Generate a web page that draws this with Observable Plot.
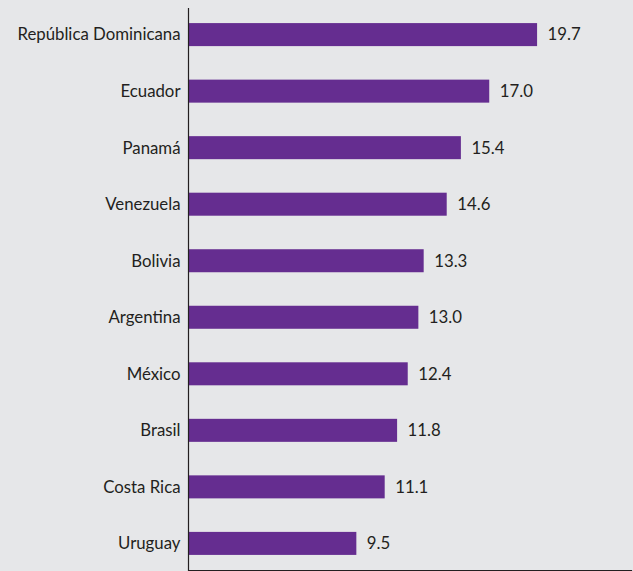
<!DOCTYPE html>
<html>
<head>
<meta charset="utf-8">
<script src="https://cdn.jsdelivr.net/npm/d3@7"></script>
<script src="https://cdn.jsdelivr.net/npm/@observablehq/plot@0.6"></script>
<style>
  html, body { margin: 0; padding: 0; background: #e6e7e9; overflow: hidden; }
  #chart svg { display: block; background: #e6e7e9; }
</style>
</head>
<body>
<div id="chart"></div>
<script>
const countries = ["República Dominicana", "Ecuador", "Panamá", "Venezuela", "Bolivia", "Argentina", "México", "Brasil", "Costa Rica", "Uruguay"];
const values = [19.7, 17.0, 15.4, 14.6, 13.3, 13.0, 12.4, 11.8, 11.1, 9.5];
const xTicks = [0, 5, 10, 15, 20, 25];

const data = countries.map((c, i) => ({country: c, value: values[i]}));
const ink = "#231f20";
const fs = 16.8;

const chart = Plot.plot({
  width: 633,
  height: 571,
  marginLeft: 188,
  marginRight: 2,
  marginTop: 8,
  marginBottom: 1,
  style: {background: "#e6e7e9", fontFamily: "Lato, sans-serif", fontSize: fs + "px", color: ink},
  x: {domain: [0, 25], ticks: xTicks},
  y: {domain: countries, paddingInner: 0.593, paddingOuter: 0.267, round: false},
  marks: [
    Plot.barX(data, {x: "value", y: "country", fill: "#652d90"}),
    Plot.text(data, {x: "value", y: "country", text: d => d.value.toFixed(1), textAnchor: "start", dx: 10, fill: ink, fontSize: fs}),
    Plot.axisY({tickSize: 0, tickPadding: 8, fontSize: fs, fill: ink, label: null}),
    Plot.axisX({ticks: xTicks, tickSize: 6, tickFormat: () => "", stroke: ink, label: null}),
    Plot.ruleX([0], {stroke: ink, strokeWidth: 1.2}),
    Plot.frame({anchor: "bottom", stroke: ink, strokeWidth: 1.2})
  ]
});
document.getElementById("chart").appendChild(chart);
</script>
</body>
</html>
